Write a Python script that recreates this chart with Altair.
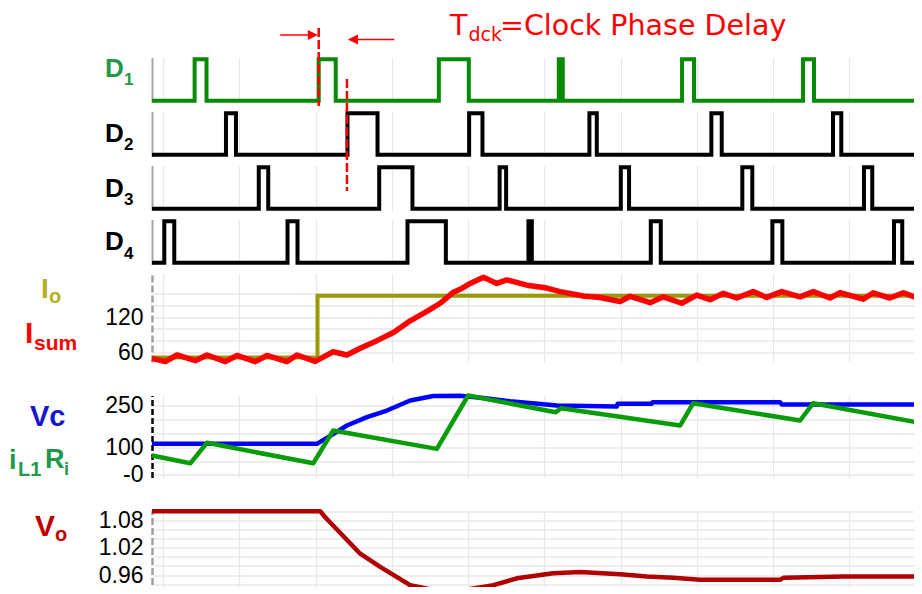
import altair as alt
import pandas as pd

# ---------------- data (time in grid units) ----------------
T_START, T_END = -0.144, 9.952
GRID_T = [0, 1, 2, 3, 4, 5, 6, 7, 8, 9]

D1_RISE = [0.415, 2.042, 3.617, 5.190, 6.806, 8.392]
D1_FALL = [0.571, 2.265, 4.010, 5.242, 6.963, 8.536]
D2_RISE = [0.826, 2.419, 4.014, 5.591, 7.190, 8.785]
D2_FALL = [0.957, 2.813, 4.189, 5.688, 7.326, 8.894]
D3_RISE = [1.256, 2.835, 4.414, 6.003, 7.596, 9.191]
D3_FALL = [1.380, 3.271, 4.499, 6.111, 7.727, 9.300]
D4_RISE = [0.017, 1.633, 3.206, 4.792, 6.396, 7.990, 9.585]
D4_FALL = [0.148, 1.764, 3.709, 4.836, 6.527, 8.121, 9.693]

IO_T = [-0.144, 2.026, 2.026, 9.952]
IO_V = [51, 51, 157, 157]

ISUM_T = [-0.144, 0.030, 0.183, 0.423, 0.577, 0.817, 0.970, 1.210, 1.363, 1.625,
          1.756, 1.996, 2.232, 2.412, 2.586, 2.805, 3.022, 3.241, 3.460, 3.634,
          3.809, 3.896, 4.028, 4.202, 4.377, 4.509, 4.771, 5.033, 5.207, 5.512,
          5.731, 5.994, 6.125, 6.387, 6.561, 6.802, 6.999, 7.173, 7.347, 7.523,
          7.740, 7.916, 8.113, 8.353, 8.527, 8.746, 8.877, 9.182, 9.313, 9.532,
          9.706, 9.952]
ISUM_V = [49.7, 44, 55.4, 45.7, 55.4, 44, 54.6, 44, 54.6, 44,
          55.4, 44.5, 61, 55.4, 67, 80, 94, 114, 130, 144,
          163, 168, 178, 188.5, 178, 184, 175, 170, 164, 156.5,
          154, 147, 156, 145, 155, 144, 158, 150, 161, 153,
          164, 154, 164, 155, 164, 153, 162, 151, 162, 153,
          162, 150]

VC_T = [-0.144, 2.018, 2.236, 2.412, 2.674, 2.936, 3.241, 3.547, 3.896, 4.200,
        4.552, 5.164, 5.950, 5.960, 6.409, 6.420, 8.090, 8.113, 9.952]
VC_V = [112, 112, 148, 178, 208, 232, 268, 284, 285, 277,
        265, 250, 246, 256, 256, 262, 262, 254, 254]

IL_T = [-0.144, 0.358, 0.577, 1.970, 2.232, 3.591, 4.001, 5.150, 5.220, 6.780,
        6.950, 8.353, 8.523, 9.952]
IL_V = [70, 42, 116, 42, 160, 94, 286, 226, 240, 178,
        258, 196, 258, 186]

VO_T = [-0.144, 2.062, 2.127, 2.586, 2.848, 3.241, 3.503, 3.700, 3.896, 4.333,
        4.640, 5.119, 5.469, 5.993, 6.343, 6.692, 7.042, 8.090, 8.134, 8.920, 9.952]
VO_V = [1.100, 1.100, 1.087, 1.007, 0.978, 0.938, 0.929, 0.924, 0.926, 0.938,
        0.953, 0.964, 0.967, 0.962, 0.957, 0.954, 0.950, 0.950, 0.954, 0.957, 0.957]

IO_GRID = [60, 80, 100, 120, 140, 160]
VC_GRID = [0, 50, 100, 150, 200, 250]
VO_GRID = [0.92, 0.94, 0.96, 0.98, 1.00, 1.02, 1.04, 1.06, 1.08, 1.10]

DELAY_T = [2.042, 2.412]          # dashed red markers
ARROW1_T = [1.537, 2.000, 2.030]  # start, end, tip
ARROW2_T = [3.034, 2.440, 2.425]

# ---------------- styling ----------------
FONT = "Liberation Sans"
TITLE_FONT = "DejaVu Sans"
W = 770
GRID_COLOR = "#e8e8e8"
GREEN_D = "#078a07"
GREEN_LBL = "#22994a"
OLIVE = "#999900"
OLIVE_LBL = "#b4b01e"
RED = "#ff0000"
BLUE = "#0000ff"
BLUE_LBL = "#1616cc"
GREEN_IL = "#089c08"
DARKRED = "#b00000"
DARKRED_LBL = "#c00000"

X_SCALE = alt.Scale(domain=[T_START, T_END], nice=False, zero=False)
X_AXIS = alt.Axis(values=GRID_T, labels=False, ticks=False, domain=False, grid=True,
                  gridColor=GRID_COLOR, gridWidth=1.3, title=None)


def xenc():
    return alt.X("t:Q", scale=X_SCALE, axis=X_AXIS)


def label(txt, x, y, size, color, weight="bold", font=FONT):
    return alt.Chart(pd.DataFrame({"s": [txt]})).mark_text(
        align="left", baseline="alphabetic", font=font, fontSize=size,
        fontWeight=weight, color=color
    ).encode(x=alt.value(x), y=alt.value(y), text="s:N")


def box(x1, x2, y1, y2):
    # invisible white box that fixes the layout bounds
    return alt.Chart(pd.DataFrame({"a": [0]})).mark_rect(color="white").encode(
        x=alt.value(x1), x2=alt.value(x2), y=alt.value(y1), y2=alt.value(y2))


def steps(rises, falls):
    ts, vs = [T_START], [0]
    for r, f in zip(rises, falls):
        ts += [r, r, f, f]
        vs += [0, 1, 1, 0]
    ts.append(T_END)
    vs.append(0)
    return pd.DataFrame({"t": ts, "v": vs, "i": range(len(ts))})


D_YAXIS = alt.Axis(labels=False, ticks=False, grid=False, domain=True,
                   domainColor="#a6a6a6", domainWidth=2, title=None)
D_YSCALE = alt.Scale(domain=[-0.04, 1.04], nice=False, zero=False)


def d_panel(rises, falls, color, sub, lbl_color, base, extra=()):
    line = alt.Chart(steps(rises, falls)).mark_line(
        color=color, strokeWidth=4, strokeJoin="miter", strokeCap="butt"
    ).encode(x=xenc(), y=alt.Y("v:Q", scale=D_YSCALE, axis=D_YAXIS), order="i:Q")
    layers = list(extra) + [line, label("D", -47, base, 26, lbl_color),
                            label(sub, -28, base + 8.5, 17, lbl_color)]
    return alt.layer(*layers).properties(width=W, height=45)


# annotations in D1 panel
dash1 = alt.Chart(pd.DataFrame({"t": [DELAY_T[0]]})).mark_rule(
    color=RED, strokeWidth=2.5, strokeDash=[9, 3]).encode(
    x=alt.X("t:Q", scale=X_SCALE), y=alt.value(-29.5), y2=alt.value(48.5))
dash2 = alt.Chart(pd.DataFrame({"t": [DELAY_T[1]]})).mark_rule(
    color=RED, strokeWidth=2.5, strokeDash=[9, 3]).encode(
    x=alt.X("t:Q", scale=X_SCALE), y=alt.value(-32.5), y2=alt.value(79.5))
arr1 = alt.Chart(pd.DataFrame({"t": [ARROW1_T[0]], "t2": [ARROW1_T[1]]})).mark_rule(
    color=RED, strokeWidth=1.5).encode(
    x=alt.X("t:Q", scale=X_SCALE), x2="t2:Q", y=alt.value(-22.5))
arr2 = alt.Chart(pd.DataFrame({"t": [ARROW2_T[0]], "t2": [ARROW2_T[1]]})).mark_rule(
    color=RED, strokeWidth=1.5).encode(
    x=alt.X("t:Q", scale=X_SCALE), x2="t2:Q", y=alt.value(-18))
head1 = alt.Chart(pd.DataFrame({"t": [ARROW1_T[2]]})).mark_point(
    shape="M0,0L-1,-0.5L-1,0.5Z", filled=True, color=RED, opacity=1, size=400).encode(
    x=alt.X("t:Q", scale=X_SCALE), y=alt.value(-22.5))
head2 = alt.Chart(pd.DataFrame({"t": [ARROW2_T[2]]})).mark_point(
    shape="M0,0L1,-0.5L1,0.5Z", filled=True, color=RED, opacity=1, size=400).encode(
    x=alt.X("t:Q", scale=X_SCALE), y=alt.value(-18))
title_parts = [
    label("T", 298, -22.5, 28.5, RED, weight="normal", font=TITLE_FONT),
    label("dck", 316.5, -16.5, 19, RED, weight="normal", font=TITLE_FONT),
    label("=Clock Phase Delay", 348, -22.5, 28.5, RED, weight="normal", font=TITLE_FONT),
]

d1 = d_panel(D1_RISE, D1_FALL, GREEN_D, "1", GREEN_LBL, 19,
             [box(-150, -149, -60, -59), box(W + 12, W + 13, 0, 1)])
d1 = alt.layer(d1, dash1, arr1, arr2, head1, head2, *title_parts)
d2 = alt.layer(d_panel(D2_RISE, D2_FALL, "black", "2", "black", 30.2), dash2)
d3 = d_panel(D3_RISE, D3_FALL, "black", "3", "black", 31.2)
d4 = d_panel(D4_RISE, D4_FALL, "black", "4", "black", 30.5)

LABEL_KW = dict(ticks=False, tickSize=0, labelPadding=9, labelFontSize=23, labelFont=FONT,
                labelColor="black", grid=True, gridColor=GRID_COLOR, gridWidth=1.3,
                labelOverlap=False, title=None)

# ---------------- Io / Isum ----------------
io_y = alt.Y("v:Q", scale=alt.Scale(domain=[43.4, 195], nice=False, zero=False),
             axis=alt.Axis(values=IO_GRID,
                           labelExpr="(datum.value == 60 || datum.value == 120) ? datum.label : ''",
                           domain=True, domainColor="#a0a0a0", domainDash=[7, 3],
                           domainWidth=2.5, **LABEL_KW))
io_line = alt.Chart(pd.DataFrame({"t": IO_T, "v": IO_V, "i": range(len(IO_T))})).mark_line(
    color=OLIVE, strokeWidth=4, strokeJoin="miter").encode(x=xenc(), y=io_y, order="i:Q")
isum_line = alt.Chart(pd.DataFrame({"t": ISUM_T, "v": ISUM_V})).mark_line(
    color=RED, strokeWidth=5.5, strokeJoin="round").encode(x=xenc(), y=io_y)
io = alt.layer(
    io_line, isum_line,
    label("I", -111, 24.8, 28, OLIVE_LBL), label("o", -103, 29.5, 20, OLIVE_LBL),
    label("I", -127, 69.8, 30, RED), label("sum", -118, 76.5, 21, RED),
).properties(width=W, height=88.5)

# ---------------- Vc / iL1Ri ----------------
vc_y = alt.Y("v:Q", scale=alt.Scale(domain=[-9, 286], nice=False, zero=False),
             axis=alt.Axis(values=VC_GRID,
                           labelExpr="datum.value == 0 ? '-0' : ((datum.value == 100 || datum.value == 250) ? datum.label : '')",
                           domain=True, domainColor="black", domainDash=[6, 3],
                           domainWidth=2.5, **LABEL_KW))
vc_line = alt.Chart(pd.DataFrame({"t": VC_T, "v": VC_V})).mark_line(
    color=BLUE, strokeWidth=4.5, strokeJoin="round").encode(x=xenc(), y=vc_y)
il_line = alt.Chart(pd.DataFrame({"t": IL_T, "v": IL_V})).mark_line(
    color=GREEN_IL, strokeWidth=4.5, strokeJoin="round").encode(x=xenc(), y=vc_y)
vc = alt.layer(
    vc_line, il_line,
    label("Vc", -122, 30, 29, BLUE_LBL),
    label("i", -143, 73, 27, GREEN_LBL), label("L1", -134, 80, 20, GREEN_LBL),
    label("R", -107, 72, 27, GREEN_LBL), label("i", -88, 79, 18, GREEN_LBL),
).properties(width=W, height=82)

# ---------------- Vo ----------------
vo_y = alt.Y("v:Q", scale=alt.Scale(domain=[0.9175, 1.1017], nice=False, zero=False),
             axis=alt.Axis(values=VO_GRID, format=".2f",
                           labelExpr="indexof(['1.08', '1.02', '0.96'], datum.label) >= 0 ? datum.label : ''",
                           domain=True, domainColor="#a0a0a0", domainDash=[7, 3],
                           domainWidth=2.5, **LABEL_KW))
vo_line = alt.Chart(pd.DataFrame({"t": VO_T, "v": VO_V})).mark_line(
    color=DARKRED, strokeWidth=4.5, strokeJoin="round").encode(x=xenc(), y=vo_y)
vo = alt.layer(
    box(0, 1, 84 + 12, 84 + 13),
    vo_line,
    label("V", -117, 25, 30, DARKRED_LBL), label("o", -97, 30, 20, DARKRED_LBL),
).properties(width=W, height=84)


def spacer():
    return alt.Chart(pd.DataFrame({"a": [0]})).mark_point(opacity=0).encode(
        x=alt.value(0), y=alt.value(0)).properties(width=W, height=15)


# bounds: left -150, top -60 (D1), right W+13, bottom +13 (Vo); negative padding trims
# them so that the drawing fits the 922x594 page with its 8px margins
chart = alt.vconcat(d1, d2, d3, d4, io, spacer(), vc, spacer(), vo,
                    spacing=9, bounds="flush",
                    padding={"left": -6, "top": -10.5, "right": -21, "bottom": -21},
                    background="white").configure_view(stroke=None)

chart.save("out.html", embed_options={"renderer": "svg", "actions": False})
